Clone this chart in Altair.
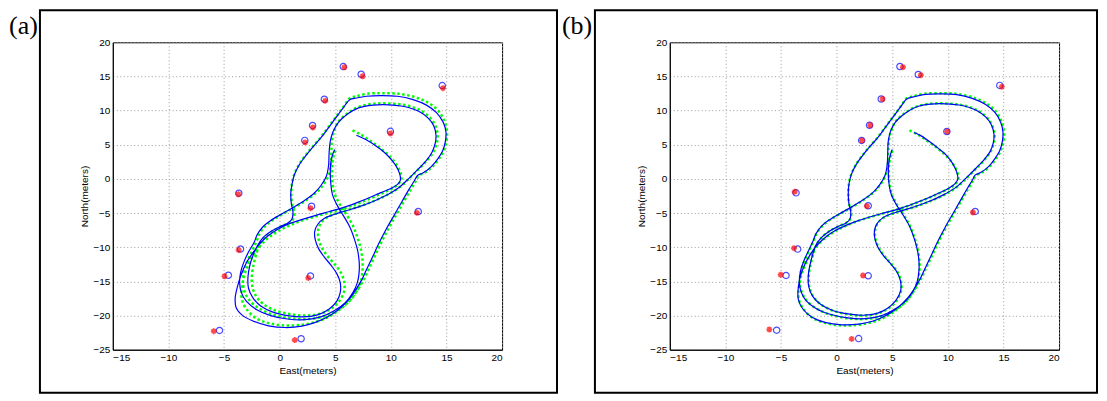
import altair as alt
import pandas as pd

# ---------------- data ----------------
X_TICKS = [-15, -10, -5, 0, 5, 10, 15, 20]
Y_TICKS = [-25, -20, -15, -10, -5, 0, 5, 10, 15, 20]

# ground-truth trajectory (green dotted), same in both panels
TRUE_PATH = [
    (6.55, 7.10), (7.3, 6.5), (8.3, 5.4), (9.2, 4.3), (9.9, 3.3), (10.5, 2.1), (10.85, 1.0), (10.95, 0.0), (10.7, -0.7), (10.1, -1.4),
    (9.2, -2.1), (8.1, -2.9), (7.0, -3.6), (5.8, -4.3), (4.5, -4.9), (3.2, -5.5), (2.0, -6.1), (0.9, -6.8), (-0.1, -7.6), (-1.0, -8.6), (-1.7, -9.7), (-2.3, -11.0),
    (-2.8, -12.5), (-3.2, -14.2), (-3.4, -16.0), (-3.4, -17.6), (-3.0, -19.0), (-2.2, -20.3), (-1.0, -21.1), (0.5, -21.45), (2.0, -21.35), (3.3, -20.9), (4.5, -20.1), (5.5, -19.0), (6.4, -17.6), (7.1, -16.0), (7.6, -14.6), (8.0, -13.2), (8.5, -11.5), (9.1, -9.4), (9.8, -7.2), (10.5, -5.2), (11.2, -3.2), (11.8, -1.5), (12.25, -0.3), (12.5, 0.5), (12.9, 0.8), (13.3, 1.2),
    (13.8, 1.9), (14.3, 2.9), (14.75, 4.1), (15.0, 5.5), (15.05, 6.9), (14.85, 8.3), (14.35, 9.8), (13.5, 11.0), (12.3, 11.9), (10.8, 12.45), (9.2, 12.55), (7.8, 12.45), (6.9, 12.1), (6.3, 11.8),
    (5.8, 10.7), (5.3, 9.6), (4.8, 8.5), (4.3, 7.4), (3.7, 6.1), (3.0, 4.8), (2.3, 3.4), (1.7, 2.0), (1.3, 0.6), (1.1, -0.8), (1.05, -2.0), (1.1, -3.5), (1.3, -4.8), (1.25, -5.8), (0.9, -6.4), (0.2, -6.9), (-0.6, -7.6), (-1.3, -8.5), (-1.8, -9.6), (-2.1, -11.0), (-2.35, -12.6), (-2.5, -14.2), (-2.45, -15.8), (-2.1, -17.2), (-1.4, -18.4), (-0.3, -19.3), (1.0, -19.8), (2.4, -20.0), (3.7, -19.7), (4.7, -18.9), (5.4, -17.8), (5.8, -16.4), (5.8, -15.0), (5.5, -13.7), (5.0, -12.6), (4.3, -11.3), (3.8, -10.1), (3.5, -8.8), (3.45, -7.6), (3.7, -6.5), (4.2, -5.7), (5.0, -5.1), (6.0, -4.6), (7.2, -4.0), (8.5, -3.2), (9.7, -2.3), (10.8, -1.2), (11.8, 0.3), (12.6, 1.6), (13.3, 2.8), (13.85, 4.0), (14.15, 5.4), (14.2, 6.5), (14.0, 7.8), (13.5, 9.0), (12.6, 10.1), (11.3, 10.8), (9.8, 11.05), (8.4, 11.0), (7.1, 10.55), (6.1, 9.6), (5.3, 8.4), (4.9, 7.0), (4.7, 5.6), (4.65, 4.0), (4.6, 2.1), (4.4, 0.5), (3.9, -0.9), (3.3, -2.0), (2.4, -3.1), (1.3, -4.2), (0.2, -5.2), (-0.7, -6.1), (-1.3, -6.9), (-1.8, -8.0), (-2.1, -9.2),
    (-2.5, -10.6), (-2.9, -12.0), (-3.2, -13.5), (-3.3, -15.0), (-3.15, -16.5), (-2.7, -17.8), (-1.8, -19.0), (-0.5, -19.9), (1.0, -20.4), (2.6, -20.5), (4.0, -20.1), (5.2, -19.2), (6.2, -18.0), (6.9, -16.5), (7.3, -15.0), (7.45, -13.5), (7.45, -12.0), (7.3, -10.3), (7.0, -8.6), (6.6, -6.9), (6.0, -5.2), (5.4, -3.7), (4.95, -2.2), (4.75, -0.6), (4.7, 1.0), (4.75, 2.5), (4.9, 3.6), (5.05, 4.3),
]

# estimated trajectory, panel (a) (blue)
EST_PATH_A = [
    (6.9, 6.4), (7.7, 5.8), (8.6, 4.9), (9.4, 3.9), (10.0, 2.9), (10.5, 1.8), (10.8, 0.7), (10.85, -0.2), (10.6, -0.8), (10.0, -1.4),
    (9.1, -2.0), (8.0, -2.8), (6.9, -3.5), (5.7, -4.2), (4.4, -4.8), (3.1, -5.4), (1.9, -6.0), (0.8, -6.6), (-0.2, -7.4), (-1.1, -8.4), (-1.8, -9.5), (-2.4, -10.8),
    (-3.0, -12.3), (-3.45, -14.0), (-3.8, -15.8), (-4.0, -17.5), (-3.9, -18.9), (-3.4, -19.9), (-2.4, -20.8), (-1.0, -21.5), (0.5, -21.75), (2.0, -21.55), (3.2, -21.0), (4.3, -20.2), (5.3, -19.1), (6.2, -17.7), (6.9, -16.1), (7.4, -14.7), (7.8, -13.3), (8.3, -11.6), (8.9, -9.5), (9.6, -7.3), (10.3, -5.3), (11.0, -3.3), (11.6, -1.6), (12.1, -0.3), (12.4, 0.5), (12.8, 0.8), (13.2, 1.2),
    (13.7, 1.9), (14.2, 2.9), (14.65, 4.1), (14.9, 5.5), (14.95, 6.9), (14.7, 8.3), (14.1, 9.7), (13.2, 10.8), (12.0, 11.6), (10.6, 12.1), (9.1, 12.2), (7.8, 12.1), (6.9, 11.85), (6.3, 11.6),
    (5.8, 10.6), (5.3, 9.5), (4.8, 8.4), (4.3, 7.3), (3.7, 6.0), (3.0, 4.7), (2.3, 3.3), (1.7, 1.9), (1.3, 0.5), (1.1, -0.9), (1.0, -2.1), (1.05, -3.6), (1.2, -4.9), (1.1, -5.9), (0.7, -6.5), (0.0, -7.0), (-0.8, -7.7), (-1.5, -8.6), (-2.0, -9.8), (-2.4, -11.2), (-2.7, -12.8), (-2.85, -14.4), (-2.8, -16.0), (-2.4, -17.4), (-1.7, -18.6), (-0.6, -19.5), (0.7, -20.0), (2.1, -20.2), (3.4, -19.9), (4.4, -19.1), (5.1, -18.0), (5.45, -16.6), (5.45, -15.2), (5.15, -13.9), (4.65, -12.7), (4.0, -11.4), (3.5, -10.2), (3.2, -8.9), (3.15, -7.7), (3.45, -6.6), (4.0, -5.8), (4.9, -5.2), (5.9, -4.7), (7.1, -4.1), (8.4, -3.3), (9.6, -2.4), (10.7, -1.3), (11.7, 0.2), (12.5, 1.5), (13.2, 2.7), (13.7, 3.9), (14.0, 5.3), (14.05, 6.5), (13.85, 7.8), (13.35, 8.9), (12.5, 9.9), (11.2, 10.6), (9.8, 10.85), (8.4, 10.8), (7.1, 10.4), (6.1, 9.5), (5.3, 8.3), (4.8, 6.9), (4.55, 5.5), (4.45, 3.9), (4.4, 2.0), (4.2, 0.4), (3.7, -1.0), (3.1, -2.1), (2.2, -3.2), (1.1, -4.3), (0.0, -5.3), (-0.9, -6.2), (-1.5, -7.0), (-2.0, -8.1), (-2.3, -9.3),
    (-2.8, -10.7), (-3.2, -12.1), (-3.5, -13.6), (-3.6, -15.1), (-3.45, -16.6), (-3.0, -17.9), (-2.1, -19.1), (-0.8, -20.0), (0.7, -20.5), (2.3, -20.6), (3.7, -20.2), (4.9, -19.3), (5.9, -18.1), (6.6, -16.6), (7.0, -15.1), (7.15, -13.6), (7.15, -12.1), (7.0, -10.4), (6.7, -8.7), (6.3, -7.0), (5.7, -5.3), (5.15, -3.8), (4.75, -2.3), (4.6, -0.7), (4.55, 0.9), (4.6, 2.4), (4.75, 3.5), (4.95, 4.3),
]

# estimated trajectory, panel (b) (blue)
EST_PATH_B = [
    (6.95, 6.8), (7.6, 6.3), (8.4, 5.4), (9.2, 4.4), (9.9, 3.4), (10.45, 2.2), (10.8, 1.0), (10.9, 0.0), (10.65, -0.7), (10.05, -1.4),
    (9.15, -2.1), (8.05, -2.9), (6.95, -3.6), (5.75, -4.3), (4.45, -4.9), (3.15, -5.5), (1.95, -6.1), (0.85, -6.8), (-0.15, -7.6), (-1.05, -8.6), (-1.75, -9.7), (-2.35, -11.0),
    (-2.85, -12.5), (-3.25, -14.2), (-3.45, -16.0), (-3.45, -17.6), (-3.05, -19.0), (-2.25, -20.2), (-1.05, -21.0), (0.5, -21.35), (2.0, -21.25), (3.3, -20.8), (4.45, -20.0), (5.45, -18.9), (6.35, -17.5), (7.05, -15.9), (7.55, -14.5), (7.95, -13.1), (8.45, -11.4), (9.05, -9.3), (9.75, -7.1), (10.45, -5.1), (11.15, -3.1), (11.75, -1.4), (12.2, -0.2), (12.45, 0.55), (12.85, 0.85), (13.25, 1.25),
    (13.75, 1.95), (14.2, 2.9), (14.65, 4.1), (14.9, 5.5), (14.95, 6.9), (14.75, 8.3), (14.25, 9.7), (13.4, 10.9), (12.2, 11.8), (10.8, 12.35), (9.2, 12.45), (7.8, 12.35), (6.9, 12.0), (6.3, 11.7),
    (5.8, 10.65), (5.3, 9.55), (4.8, 8.45), (4.3, 7.35), (3.7, 6.05), (3.0, 4.75), (2.3, 3.35), (1.7, 1.95), (1.3, 0.55), (1.1, -0.85), (1.05, -2.05), (1.1, -3.55), (1.27, -4.85), (1.2, -5.85), (0.85, -6.45), (0.15, -6.95), (-0.65, -7.65), (-1.35, -8.55), (-1.85, -9.65), (-2.15, -11.05), (-2.4, -12.65), (-2.55, -14.25), (-2.5, -15.8), (-2.15, -17.2), (-1.45, -18.35), (-0.35, -19.25), (1.0, -19.75), (2.4, -19.95), (3.7, -19.65), (4.65, -18.85), (5.35, -17.75), (5.75, -16.4), (5.75, -15.0), (5.45, -13.7), (4.95, -12.6), (4.25, -11.3), (3.75, -10.1), (3.45, -8.8), (3.4, -7.6), (3.65, -6.5), (4.15, -5.7), (4.95, -5.1), (5.95, -4.6), (7.15, -4.0), (8.45, -3.2), (9.65, -2.3), (10.75, -1.2), (11.75, 0.3), (12.55, 1.6), (13.25, 2.8), (13.8, 4.0), (14.1, 5.4), (14.15, 6.5), (13.95, 7.8), (13.45, 9.0), (12.55, 10.05), (11.3, 10.75), (9.8, 11.0), (8.4, 10.95), (7.1, 10.5), (6.1, 9.55), (5.3, 8.35), (4.85, 7.0), (4.65, 5.6), (4.6, 4.0), (4.55, 2.1), (4.35, 0.5), (3.85, -0.9), (3.25, -2.0), (2.35, -3.1), (1.25, -4.2), (0.15, -5.2), (-0.75, -6.1), (-1.35, -6.9), (-1.85, -8.0), (-2.15, -9.2),
    (-2.55, -10.6), (-2.95, -12.0), (-3.25, -13.5), (-3.35, -15.0), (-3.2, -16.5), (-2.75, -17.8), (-1.85, -18.95), (-0.5, -19.85), (1.0, -20.35), (2.6, -20.45), (4.0, -20.05), (5.15, -19.15), (6.15, -17.95), (6.85, -16.5), (7.25, -15.0), (7.4, -13.5), (7.4, -12.0), (7.25, -10.3), (6.95, -8.6), (6.55, -6.9), (5.95, -5.2), (5.35, -3.7), (4.9, -2.2), (4.7, -0.6), (4.65, 1.0), (4.7, 2.5), (4.85, 3.6), (5.0, 4.3),
]

# landmarks: blue circles and red stars
CIRCLES_A = [(5.72, 16.44), (7.33, 15.32), (14.62, 13.67), (4.02, 11.67), (2.96, 7.83), (2.26, 5.64), (9.96, 6.96),
             (-3.67, -2.09), (2.87, -3.99), (12.46, -4.77), (-3.52, -10.26), (-4.61, -14.1), (2.77, -14.2), (-5.41, -22.18), (1.93, -23.39)]
STARS_A = [(5.82, 16.34), (7.46, 15.03), (14.69, 13.28), (4.09, 11.43), (2.99, 7.54), (2.29, 5.35), (9.96, 6.66),
           (-3.71, -2.24), (2.77, -4.28), (12.34, -4.96), (-3.68, -10.41), (-4.96, -14.25), (2.57, -14.49), (-5.92, -22.28), (1.36, -23.59)]
CIRCLES_B = [(5.69, 16.46), (7.34, 15.29), (14.67, 13.69), (4.01, 11.7), (2.96, 7.86), (2.25, 5.63), (9.91, 6.94),
             (-3.65, -2.04), (2.84, -3.93), (12.46, -4.76), (-3.5, -10.27), (-4.55, -14.13), (2.84, -14.18), (-5.39, -22.14), (1.98, -23.37)]
STARS_B = [(5.96, 16.36), (7.57, 15.19), (14.85, 13.5), (4.13, 11.7), (3.02, 7.86), (2.28, 5.63), (9.94, 6.94),
           (-3.77, -1.89), (2.72, -3.98), (12.25, -4.9), (-3.83, -10.13), (-5.03, -14.03), (2.37, -14.13), (-6.05, -22.04), (1.35, -23.42)]

FONT = "Liberation Sans"
ASTERISK = "M-1,0L1,0M0,-1L0,1M-0.7,-0.7L0.7,0.7M-0.7,0.7L0.7,-0.7"


def path_df(pts):
    return pd.DataFrame({"x": [p[0] for p in pts], "y": [p[1] for p in pts], "i": list(range(len(pts)))})


def pts_df(pts):
    return pd.DataFrame({"x": [p[0] for p in pts], "y": [p[1] for p in pts]})


xenc = alt.X("x:Q", scale=alt.Scale(domain=[-15, 20], nice=False, zero=False),
             axis=alt.Axis(values=X_TICKS, format="d", title="East(meters)", grid=True))
yenc = alt.Y("y:Q", scale=alt.Scale(domain=[-25, 20], nice=False, zero=False),
             axis=alt.Axis(values=Y_TICKS, format="d", title="North(meters)", grid=True))


def panel(label, est, circles, stars, fx, fx2, lx):
    one = pd.DataFrame({"k": [0]})
    frame = alt.Chart(one).mark_rect(fillOpacity=0, stroke="black", strokeWidth=2).encode(
        x=alt.value(fx), x2=alt.value(fx2), y=alt.value(-32), y2=alt.value(351))
    tag = alt.Chart(one).mark_text(text=label, align="left", baseline="alphabetic",
                                   font="Liberation Serif", fontSize=26, color="black").encode(
        x=alt.value(lx), y=alt.value(-8))
    green = alt.Chart(path_df(TRUE_PATH)).mark_line(
        color="#00ff00", strokeWidth=2.5, strokeDash=[2.5, 2.5], interpolate="catmull-rom"
    ).encode(x=xenc, y=yenc, order="i:Q")
    blue = alt.Chart(path_df(est)).mark_line(
        color="#0000ff", strokeWidth=1.2, interpolate="catmull-rom"
    ).encode(x=xenc, y=yenc, order="i:Q")
    circ = alt.Chart(pts_df(circles)).mark_point(
        shape="circle", size=40, color="#0000ff", strokeWidth=1.2, filled=False
    ).encode(x=xenc, y=yenc)
    star = alt.Chart(pts_df(stars)).mark_point(
        shape=ASTERISK, size=36, color="#ff0000", strokeWidth=1.6, filled=False
    ).encode(x=xenc, y=yenc)
    return alt.layer(frame, green, blue, circ, star, tag).properties(width=390, height=308)


pa = panel("(a)", EST_PATH_A, CIRCLES_A, STARS_A, -73, 445, -104)
pb = panel("(b)", EST_PATH_B, CIRCLES_B, STARS_B, -75, 428, -108)

chart = alt.hconcat(pa, pb, spacing=168, bounds="flush").properties(padding=0).configure_view(
    stroke="black", strokeWidth=1
).configure_axis(
    labelFont=FONT, labelFontSize=10, labelColor="black", labelPadding=3,
    titleFont=FONT, titleFontSize=10, titleFontWeight="normal", titleColor="black", titlePadding=3,
    domainColor="black", domainWidth=1, tickSize=0,
    gridColor="#9a9a9a", gridDash=[1, 2.5], gridWidth=1, gridOpacity=1
)

chart.save("out.html", embed_options={"renderer": "svg", "actions": False})
